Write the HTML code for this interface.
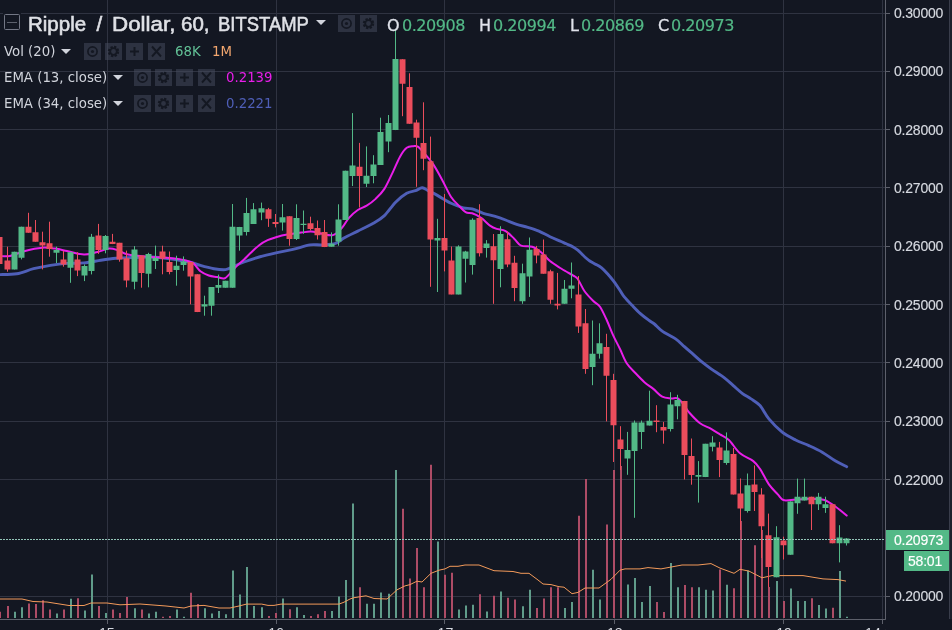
<!DOCTYPE html>
<html><head><meta charset="utf-8"><style>
html,body{margin:0;padding:0;background:#131722;}
body{width:952px;height:630px;position:relative;overflow:hidden;font-family:"Liberation Sans", Arial, sans-serif;}
.t{position:absolute;white-space:nowrap;color:#d1d4dc;line-height:1;}
.b{position:absolute;width:17px;height:17px;background:rgba(72,78,95,0.5);}
.b svg{display:block}
.ti{top:14px;font-size:20.5px;font-family:'Liberation Sans',sans-serif;color:#dfe1e6;-webkit-text-stroke:0.55px #dfe1e6;}
.d{font-family:'DejaVu Sans',sans-serif;font-size:16px;letter-spacing:-0.45px;-webkit-text-stroke:0.2px currentColor;}
.s{font-family:'DejaVu Sans',sans-serif;font-size:13.3px;}
.tri{position:absolute;width:0;height:0;border-left:5px solid transparent;border-right:5px solid transparent;border-top:5px solid #d1d4dc;}
</style></head><body>
<svg width="952" height="630" viewBox="0 0 952 630" style="position:absolute;left:0;top:0">
<rect width="952" height="630" fill="#131722"/>
<path d="M0 13.5H886 M0 71.5H886 M0 129.5H886 M0 187.5H886 M0 246.5H886 M0 304.5H886 M0 362.5H886 M0 421.5H886 M0 479.5H886 M0 596.5H886 M107.5 0V619 M276.5 0V619 M444.5 0V619 M614.5 0V619 M783.5 0V619 M882.5 0V619" stroke="#2f3341" stroke-width="1" fill="none"/>
<path d="M15 618V611.7 M22 618V607.3 M57 618V613.4 M71 618V598.7 M85 618V610.5 M92 618V574.5 M106 618V613.0 M135 618V608.3 M149 618V613.4 M156 618V611.7 M177 618V609.6 M184 618V616.8 M205 618V608.3 M212 618V613.4 M219 618V610.9 M226 618V614.3 M233 618V570.5 M240 618V594.6 M247 618V566.9 M254 618V606.0 M262 618V607.3 M283 618V598.4 M297 618V607.3 M304 618V615.0 M332 618V610.9 M339 618V596.5 M346 618V580.0 M353 618V503.4 M367 618V603.7 M374 618V603.7 M381 618V592.4 M389 618V593.7 M396 618V469.9 M438 618V541.4 M459 618V609.5 M466 618V605.5 M473 618V604.7 M487 618V611.5 M501 618V591.6 M523 618V606.3 M530 618V589.8 M565 618V608.1 M572 618V602.1 M593 618V569.7 M600 618V599.5 M628 618V584.6 M635 618V578.0 M642 618V602.1 M650 618V585.9 M671 618V562.9 M678 618V587.2 M699 618V587.2 M706 618V589.8 M713 618V590.6 M727 618V584.7 M748 618V570.5 M777 618V581.1 M791 618V588.4 M798 618V601.1 M805 618V601.1 M819 618V604.9 M826 618V608.4 M840 618V571.1 M847 618V616.7" stroke="#609c8a" stroke-width="2" fill="none"/>
<path d="M0 618V611.7 M8 618V606.0 M29 618V603.5 M36 618V603.9 M43 618V600.3 M50 618V609.6 M64 618V609.6 M78 618V598.2 M99 618V606.0 M113 618V609.6 M120 618V613.0 M127 618V596.9 M142 618V609.6 M163 618V616.8 M170 618V616.0 M191 618V592.7 M198 618V604.1 M269 618V616.0 M276 618V613.0 M290 618V609.2 M311 618V616.0 M318 618V614.3 M325 618V610.9 M360 618V587.2 M403 618V508.7 M410 618V578.6 M417 618V547.9 M424 618V587.2 M431 618V464.7 M445 618V574.8 M452 618V572.8 M480 618V594.3 M494 618V595.8 M508 618V597.7 M515 618V599.5 M537 618V608.1 M544 618V598.5 M551 618V587.2 M558 618V587.2 M579 618V515.7 M586 618V479.1 M607 618V524.4 M614 618V470.0 M621 618V466.0 M657 618V602.1 M664 618V612.1 M685 618V585.1 M692 618V587.2 M720 618V569.4 M734 618V588.2 M741 618V521.0 M755 618V545.3 M762 618V530.0 M769 618V587.0 M784 618V601.1 M812 618V598.2 M833 618V607.8" stroke="#ad4c66" stroke-width="2" fill="none"/>
<path d="M0.0 599.0 L22.0 599.0 L33.0 601.5 L47.0 602.0 L69.0 605.5 L84.0 605.5 L91.0 603.0 L107.0 603.0 L120.0 604.8 L140.0 604.0 L166.0 606.0 L184.0 608.0 L191.0 606.0 L204.0 605.4 L219.0 608.0 L230.0 608.0 L239.0 606.0 L246.5 604.1 L261.7 604.1 L268.0 605.4 L274.0 605.4 L281.0 604.1 L339.0 604.1 L344.0 602.2 L350.0 599.0 L354.0 597.7 L366.0 595.8 L374.0 598.5 L387.0 599.0 L397.0 589.8 L405.0 585.9 L410.0 584.6 L417.0 581.2 L422.0 582.0 L431.0 573.3 L439.0 570.2 L445.0 568.9 L450.0 566.3 L458.0 566.3 L465.0 565.0 L479.0 565.0 L494.0 570.7 L513.0 571.5 L521.0 573.3 L529.0 573.3 L538.0 580.0 L543.0 584.0 L551.0 584.6 L559.0 586.7 L564.0 587.2 L572.0 593.7 L578.0 592.4 L585.0 588.0 L599.0 588.0 L611.0 579.3 L620.0 570.2 L625.0 568.9 L640.0 568.9 L648.0 567.6 L661.0 568.9 L682.0 565.0 L698.0 565.0 L711.0 563.6 L720.0 568.1 L727.0 570.7 L734.0 573.3 L740.0 569.3 L749.0 571.1 L762.0 577.8 L772.0 575.6 L792.0 575.6 L803.0 575.6 L823.0 578.9 L838.0 579.6 L846.0 581.1" stroke="#f39a5a" stroke-width="1" fill="none" stroke-linejoin="round"/>
<path d="M0.0 274.6 C2.8 274.5 11.2 274.8 16.8 273.8 C22.4 272.8 28.0 270.1 33.6 268.7 C39.2 267.3 44.8 266.3 50.4 265.4 C56.0 264.5 61.6 263.8 67.2 263.4 C72.8 263.0 78.4 263.4 84.0 262.9 C89.6 262.4 95.5 261.1 100.8 260.3 C106.1 259.5 111.8 258.7 116.0 258.3 C120.2 257.9 120.3 258.0 126.0 257.8 C131.7 257.6 141.8 256.7 150.0 257.0 C158.2 257.3 168.0 258.5 175.2 259.5 C182.3 260.5 188.7 261.9 192.9 262.9 C197.1 263.9 196.9 264.4 200.4 265.4 C203.9 266.4 209.7 268.0 213.9 268.7 C218.1 269.4 222.2 270.0 225.6 269.6 C228.9 269.2 230.9 267.5 234.0 266.2 C237.1 264.9 239.9 263.5 244.1 262.0 C248.3 260.5 253.9 258.5 259.2 257.0 C264.5 255.5 270.4 254.1 276.0 252.8 C281.6 251.5 287.2 250.7 292.9 249.4 C298.6 248.1 305.1 245.7 310.0 244.9 C314.9 244.2 317.7 245.2 322.0 244.9 C326.3 244.6 331.9 244.5 335.6 243.3 C339.3 242.1 340.7 239.8 344.4 237.8 C348.1 235.8 353.0 233.5 357.8 231.1 C362.6 228.7 368.9 225.9 373.3 223.3 C377.7 220.7 380.7 219.1 384.4 215.6 C388.1 212.1 391.9 205.9 395.6 202.2 C399.3 198.5 403.4 195.2 406.7 193.3 C410.0 191.4 413.0 191.6 415.6 190.7 C418.2 189.8 420.0 187.7 422.2 187.8 C424.4 187.9 426.3 189.8 428.9 191.1 C431.5 192.4 434.1 193.6 437.8 195.6 C441.5 197.6 446.9 201.3 451.1 203.3 C455.4 205.3 459.8 206.9 463.3 207.8 C466.8 208.7 468.9 208.0 472.2 208.9 C475.5 209.8 479.6 212.1 483.3 213.3 C487.0 214.5 490.7 215.1 494.4 216.2 C498.1 217.3 501.9 218.6 505.6 220.0 C509.3 221.4 513.0 223.2 516.7 224.4 C520.4 225.6 524.1 226.2 527.8 227.3 C531.5 228.4 535.2 229.5 538.9 231.1 C542.6 232.7 546.3 235.0 550.0 236.7 C553.7 238.4 558.4 240.3 561.1 241.5 C563.8 242.7 564.4 242.9 566.3 243.8 C568.2 244.7 570.8 245.6 572.7 246.7 C574.6 247.8 576.3 249.0 577.8 250.2 C579.3 251.4 580.3 252.5 581.6 253.7 C582.9 254.9 584.0 256.3 585.4 257.5 C586.8 258.7 588.2 259.9 589.8 261.0 C591.4 262.1 593.1 262.8 595.0 263.9 C596.9 265.0 599.2 266.0 601.3 267.7 C603.4 269.4 605.6 271.7 607.7 274.0 C609.8 276.3 611.9 278.9 614.0 281.7 C616.1 284.5 618.6 288.4 620.4 291.0 C622.1 293.6 622.5 294.7 624.5 297.1 C626.5 299.5 629.5 302.6 632.1 305.3 C634.8 308.1 637.6 311.1 640.4 313.6 C643.2 316.1 646.4 318.5 648.7 320.2 C651.0 321.9 652.1 322.2 654.4 324.0 C656.6 325.8 658.7 328.6 662.2 331.1 C665.7 333.6 671.9 336.3 675.6 338.9 C679.3 341.5 681.5 344.1 684.4 346.7 C687.3 349.3 690.3 351.8 693.3 354.4 C696.3 357.0 699.2 359.8 702.2 362.2 C705.2 364.6 707.4 366.3 711.1 368.9 C714.8 371.5 720.7 375.0 724.4 377.8 C728.1 380.6 730.3 383.0 733.3 385.6 C736.3 388.2 739.2 391.1 742.2 393.3 C745.2 395.5 748.1 396.8 751.1 398.9 C754.1 400.9 757.0 402.3 760.0 405.6 C763.0 408.9 765.2 414.5 768.9 418.9 C772.6 423.3 777.8 428.7 782.2 432.2 C786.7 435.7 791.2 437.8 795.6 440.0 C800.0 442.2 804.5 443.6 808.9 445.6 C813.3 447.6 817.8 449.6 822.2 452.2 C826.7 454.8 831.5 458.7 835.6 461.1 C839.7 463.5 844.9 465.8 846.7 466.7" stroke="#4f5fb8" stroke-width="2.9" fill="none" stroke-linejoin="round" stroke-linecap="round"/>
<path d="M0.0 256.0 C1.7 256.0 5.8 256.8 10.0 256.0 C14.2 255.2 19.7 252.4 25.0 251.0 C30.3 249.6 37.0 248.1 42.0 247.7 C47.0 247.3 50.8 248.0 55.0 248.6 C59.2 249.2 62.2 250.0 67.0 251.0 C71.8 252.0 78.9 254.3 84.0 254.5 C89.1 254.7 93.3 253.0 97.5 252.0 C101.7 251.0 105.6 248.9 109.0 248.6 C112.4 248.3 114.8 249.3 118.0 250.3 C121.2 251.3 122.5 253.4 128.0 254.5 C133.5 255.6 144.5 256.4 151.0 257.0 C157.5 257.6 161.4 257.3 166.8 257.8 C172.2 258.3 179.2 259.1 183.6 260.0 C187.9 260.9 190.1 261.0 192.9 262.9 C195.7 264.8 197.8 269.2 200.4 271.3 C203.1 273.4 206.0 274.5 208.8 275.5 C211.6 276.5 214.7 276.6 217.2 277.1 C219.7 277.6 222.0 278.9 224.0 278.5 C226.0 278.1 226.8 276.8 229.0 274.6 C231.2 272.4 234.9 267.9 237.4 265.4 C239.9 262.9 241.9 261.6 244.1 259.5 C246.3 257.4 248.3 255.2 250.8 252.8 C253.3 250.4 256.4 247.3 259.2 245.2 C262.0 243.1 264.5 241.6 267.6 240.2 C270.7 238.8 274.9 237.7 277.7 236.8 C280.5 236.0 280.6 235.8 284.5 235.1 C288.4 234.4 296.9 233.2 301.3 232.6 C305.7 232.0 307.6 231.4 311.0 231.6 C314.4 231.8 318.3 233.2 322.0 233.8 C325.7 234.4 329.7 236.1 333.0 235.1 C336.3 234.1 339.3 230.7 342.0 227.8 C344.7 224.9 346.4 220.8 349.0 217.8 C351.6 214.8 354.9 212.0 357.8 210.0 C360.8 208.0 363.7 207.4 366.7 205.6 C369.7 203.8 372.7 201.7 375.6 198.9 C378.6 196.1 381.4 193.5 384.4 188.9 C387.3 184.3 390.7 176.5 393.3 171.1 C395.9 165.7 397.8 160.6 400.0 156.7 C402.2 152.8 404.5 149.6 406.7 147.8 C408.9 146.1 411.4 146.4 413.3 146.2 C415.2 146.0 416.0 145.5 417.8 146.7 C419.6 147.9 421.8 150.4 424.4 153.3 C427.0 156.2 430.3 160.0 433.3 164.4 C436.3 168.8 439.2 174.6 442.2 180.0 C445.2 185.4 448.3 192.7 451.1 197.0 C453.9 201.3 456.5 203.1 458.9 205.6 C461.3 208.1 463.4 210.9 465.6 212.2 C467.8 213.5 469.6 212.4 472.2 213.3 C474.8 214.2 478.1 215.8 481.1 217.8 C484.1 219.9 487.4 223.8 490.0 225.6 C492.6 227.4 494.1 228.0 496.7 228.9 C499.3 229.8 502.7 229.4 505.6 231.1 C508.6 232.8 511.8 236.5 514.4 238.9 C517.0 241.3 518.1 244.3 521.1 245.6 C524.1 246.9 528.9 245.6 532.2 246.7 C535.5 247.8 538.1 249.8 541.1 252.2 C544.1 254.6 546.7 258.4 550.0 261.1 C553.3 263.8 558.3 266.7 561.1 268.5 C563.9 270.3 565.0 270.8 567.0 272.0 C569.0 273.2 571.5 274.4 573.3 275.6 C575.1 276.8 575.9 276.4 577.8 279.0 C579.6 281.6 581.8 287.3 584.4 291.0 C587.0 294.7 590.7 298.4 593.3 301.0 C595.9 303.6 597.8 303.5 600.0 306.7 C602.2 309.9 604.5 315.2 606.7 320.0 C608.9 324.8 611.1 330.8 613.3 335.6 C615.5 340.4 617.8 344.4 620.0 349.0 C622.2 353.6 624.1 359.2 626.7 363.3 C629.3 367.4 632.7 370.2 635.6 373.3 C638.5 376.4 641.5 379.6 644.4 382.2 C647.3 384.8 650.3 386.5 653.3 388.9 C656.3 391.3 659.2 395.1 662.2 396.7 C665.2 398.3 668.5 398.1 671.1 398.4 C673.7 398.7 675.6 397.2 677.8 398.4 C680.0 399.6 682.5 403.3 684.4 405.6 C686.2 407.9 686.3 409.2 688.9 412.2 C691.5 415.1 696.3 420.5 700.0 423.3 C703.7 426.1 707.8 427.0 711.1 428.9 C714.4 430.8 717.0 432.5 720.0 434.4 C723.0 436.2 725.6 436.9 728.9 440.0 C732.2 443.1 735.9 449.8 740.0 453.3 C744.1 456.8 750.0 458.5 753.3 461.1 C756.6 463.7 757.4 465.0 760.0 468.9 C762.6 472.8 765.9 480.1 768.9 484.4 C771.9 488.6 775.4 491.8 777.8 494.4 C780.2 497.0 781.1 499.1 783.3 500.0 C785.5 500.9 787.6 500.2 791.1 500.0 C794.6 499.8 800.7 499.1 804.4 498.9 C808.1 498.7 810.0 498.7 813.3 498.9 C816.6 499.1 820.7 498.7 824.4 500.0 C828.1 501.3 831.9 504.1 835.6 506.7 C839.3 509.3 844.9 514.1 846.7 515.6" stroke="#e91ee9" stroke-width="2" fill="none" stroke-linejoin="round" stroke-linecap="round"/>
<path d="M14.5 251.7V269.4 M21.5 226.7V259.4 M56.5 246.7V263.0 M70.5 251.7V282.8 M84.5 264.4V281.1 M91.5 233.9V274.4 M105.5 235.0V253.3 M134.5 246.1V289.3 M148.5 252.8V287.3 M155.5 245.6V269.0 M176.5 255.7V285.7 M183.5 256.4V270.7 M204.5 295.7V315.7 M211.5 287.1V315.7 M218.5 274.6V293.0 M225.5 280.8V287.7 M232.5 204.0V287.7 M239.5 226.9V250.7 M246.5 197.9V235.5 M253.5 203.1V224.0 M261.5 202.6V220.2 M282.5 204.0V230.6 M296.5 204.3V240.0 M303.5 210.5V233.8 M331.5 232.4V246.7 M338.5 204.3V245.7 M345.5 170.7V220.0 M352.5 113.1V186.0 M366.5 146.4V187.0 M373.5 155.2V183.3 M380.5 117.7V165.0 M388.5 115.0V152.2 M395.5 29.0V130.1 M437.5 218.8V292.0 M458.5 245.3V294.4 M465.5 250.8V282.5 M472.5 218.3V274.6 M486.5 240.1V257.6 M500.5 226.2V287.3 M522.5 263.7V303.8 M529.5 237.5V296.9 M564.5 280.0V303.8 M571.5 262.5V298.3 M592.5 320.5V385.2 M599.5 323.3V358.6 M627.5 431.9V474.8 M634.5 420.5V517.8 M641.5 420.5V449.0 M649.5 390.7V425.5 M670.5 392.2V431.5 M677.5 394.8V419.3 M698.5 461.1V502.6 M705.5 443.8V477.1 M712.5 436.2V451.4 M726.5 432.4V464.8 M747.5 473.5V512.6 M776.5 526.2V577.3 M790.5 501.4V554.8 M797.5 478.6V513.8 M804.5 478.6V500.5 M818.5 492.9V510.0 M825.5 496.7V512.9 M839.5 525.2V562.4 M846.5 538.0V545.5" stroke="#53b987" stroke-width="1" fill="none"/>
<path d="M11.5 251.7h6v17.7h-6z M18.5 226.7h6v31.1h-6z M53.5 250.0h6v2.8h-6z M67.5 252.2h6v15.6h-6z M81.5 266.1h6v9.5h-6z M88.5 236.7h6v34.4h-6z M102.5 236.1h6v13.9h-6z M131.5 249.4h6v32.3h-6z M145.5 253.9h6v19.9h-6z M152.5 258.0h6v3.0h-6z M173.5 265.7h6v4.3h-6z M180.5 261.4h6v3.6h-6z M201.5 304.3h6v2.1h-6z M208.5 287.1h6v18.6h-6z M215.5 285.1h6v2.6h-6z M222.5 280.8h6v6.9h-6z M229.5 226.8h6v60.9h-6z M236.5 226.9h6v8.6h-6z M243.5 213.1h6v19.0h-6z M250.5 209.3h6v14.7h-6z M258.5 208.3h6v4.3h-6z M279.5 217.3h6v5.2h-6z M293.5 218.1h6v20.9h-6z M300.5 223.8h6v1.2h-6z M328.5 243.8h6v2.9h-6z M335.5 219.5h6v22.1h-6z M342.5 170.7h6v49.3h-6z M349.5 165.6h6v10.4h-6z M363.5 175.7h6v8.0h-6z M370.5 164.5h6v11.5h-6z M377.5 132.0h6v33.0h-6z M385.5 123.0h6v18.5h-6z M392.5 59.0h6v71.1h-6z M434.5 238.1h6v2.4h-6z M455.5 246.5h6v47.9h-6z M462.5 251.6h6v7.1h-6z M469.5 219.8h6v45.2h-6z M483.5 243.6h6v4.4h-6z M497.5 234.0h6v34.9h-6z M519.5 273.3h6v27.9h-6z M526.5 249.7h6v26.8h-6z M561.5 288.7h6v15.1h-6z M568.5 285.6h6v3.1h-6z M589.5 353.8h6v13.3h-6z M596.5 343.3h6v10.5h-6z M624.5 450.0h6v8.6h-6z M631.5 422.4h6v28.6h-6z M638.5 422.4h6v9.5h-6z M646.5 420.7h6v4.8h-6z M667.5 404.4h6v24.5h-6z M674.5 400.0h6v6.2h-6z M695.5 475.0h6v1.8h-6z M702.5 443.8h6v33.3h-6z M709.5 442.5h6v4.2h-6z M723.5 450.5h6v12.4h-6z M744.5 485.2h6v25.8h-6z M773.5 537.2h6v40.1h-6z M787.5 501.4h6v53.4h-6z M794.5 496.7h6v6.6h-6z M801.5 496.7h6v3.8h-6z M815.5 496.7h6v7.6h-6z M822.5 504.3h6v3.8h-6z M836.5 537.6h6v5.7h-6z M843.5 538.6h6v4.7h-6z" fill="#53b987"/>
<path d="M-0.5 235.0V264.0 M7.5 246.7V271.7 M28.5 212.8V232.8 M35.5 220.0V241.7 M42.5 231.7V269.4 M49.5 221.7V256.7 M63.5 251.0V266.7 M77.5 252.2V276.1 M98.5 223.9V253.9 M112.5 233.9V244.1 M119.5 242.8V261.7 M126.5 250.6V287.3 M141.5 255.6V287.7 M162.5 245.7V274.3 M169.5 251.5V274.3 M190.5 262.1V304.3 M197.5 274.3V312.1 M268.5 207.9V226.9 M275.5 214.0V227.4 M289.5 216.2V245.7 M310.5 216.7V230.5 M317.5 220.5V239.5 M324.5 220.0V247.1 M359.5 142.9V207.5 M402.5 59.2V116.2 M409.5 73.3V123.8 M416.5 119.7V186.8 M423.5 102.3V170.2 M430.5 136.6V286.8 M444.5 194.0V271.4 M451.5 246.5V294.4 M479.5 204.2V256.5 M493.5 234.0V303.8 M507.5 231.4V267.2 M514.5 255.8V301.2 M536.5 245.9V263.3 M543.5 239.5V273.7 M550.5 269.7V303.8 M557.5 272.9V309.4 M578.5 276.0V332.9 M585.5 309.0V373.8 M606.5 333.8V421.4 M613.5 373.8V462.0 M620.5 426.2V470.0 M656.5 405.2V432.2 M663.5 421.9V443.7 M684.5 400.9V479.5 M691.5 438.5V484.7 M719.5 441.9V477.1 M733.5 448.0V494.5 M740.5 478.5V530.0 M754.5 465.4V511.0 M761.5 488.2V558.0 M768.5 513.6V587.2 M783.5 536.7V559.5 M811.5 496.7V530.0 M832.5 504.3V543.3" stroke="#eb4d5c" stroke-width="1" fill="none"/>
<path d="M-3.5 237.0h6v27.0h-6z M4.5 260.6h6v8.8h-6z M25.5 226.7h6v6.1h-6z M32.5 232.2h6v9.5h-6z M39.5 242.2h6v3.4h-6z M46.5 243.3h6v5.6h-6z M60.5 259.4h6v5.0h-6z M74.5 259.4h6v11.2h-6z M95.5 235.6h6v14.4h-6z M109.5 241.7h6v2.4h-6z M116.5 242.8h6v16.6h-6z M123.5 258.3h6v22.3h-6z M138.5 255.6h6v17.4h-6z M159.5 251.5h6v7.1h-6z M166.5 262.0h6v10.1h-6z M187.5 262.1h6v14.3h-6z M194.5 274.3h6v37.8h-6z M265.5 209.3h6v9.5h-6z M272.5 222.1h6v1.9h-6z M286.5 216.2h6v22.8h-6z M307.5 223.3h6v5.7h-6z M314.5 228.1h6v7.1h-6z M321.5 231.9h6v15.2h-6z M356.5 166.7h6v9.3h-6z M399.5 59.2h6v24.5h-6z M406.5 87.0h6v36.8h-6z M413.5 122.6h6v15.1h-6z M420.5 143.0h6v15.8h-6z M427.5 161.2h6v78.4h-6z M441.5 237.9h6v12.7h-6z M448.5 260.4h6v34.0h-6z M476.5 217.9h6v35.3h-6z M490.5 246.2h6v14.0h-6z M504.5 239.3h6v25.3h-6z M511.5 262.8h6v25.3h-6z M533.5 249.0h6v6.4h-6z M540.5 254.6h6v19.1h-6z M547.5 271.3h6v28.5h-6z M554.5 303.8h6v1.6h-6z M575.5 294.5h6v32.0h-6z M582.5 323.3h6v45.7h-6z M603.5 347.1h6v28.6h-6z M610.5 380.0h6v45.2h-6z M617.5 439.5h6v9.5h-6z M653.5 420.5h6v1.5h-6z M660.5 427.1h6v3.5h-6z M681.5 400.9h6v54.1h-6z M688.5 455.9h6v19.2h-6z M716.5 447.6h6v12.4h-6z M730.5 454.0h6v40.5h-6z M737.5 493.5h6v15.0h-6z M751.5 484.6h6v7.4h-6z M758.5 494.6h6v31.7h-6z M765.5 535.2h6v31.7h-6z M780.5 540.5h6v4.7h-6z M808.5 496.7h6v7.6h-6z M829.5 504.3h6v39.0h-6z" fill="#eb4d5c"/>
<path d="M0 539.5H886" stroke="#93c4b8" stroke-width="1.2" stroke-dasharray="2 1" fill="none"/>
<rect x="886" y="0" width="66" height="630" fill="#131722"/>
<rect x="0" y="619" width="886" height="11" fill="#131722"/>
<path d="M885.5 0V619.5H0" stroke="#5d606b" stroke-width="1" fill="none"/>
<rect x="950" y="0" width="2" height="630" fill="#1c202c"/><path d="M949.5 0V630" stroke="#393d4b" stroke-width="1" fill="none"/>
<path d="M886 13.5h4 M886 71.5h4 M886 129.5h4 M886 187.5h4 M886 246.5h4 M886 304.5h4 M886 362.5h4 M886 421.5h4 M886 479.5h4 M886 537.5h4 M886 596.5h4 M107.5 620v4 M276.5 620v4 M444.5 620v4 M614.5 620v4 M783.5 620v4 M882.5 620v4" stroke="#5d606b" stroke-width="1" fill="none"/>
<text x="894" y="18.1" font-family="Liberation Sans, Arial, sans-serif" font-size="14" letter-spacing="-0.2" fill="#d6d9e0" stroke="#d6d9e0" stroke-width="0.15">0.30000</text>
<text x="894" y="76.4" font-family="Liberation Sans, Arial, sans-serif" font-size="14" letter-spacing="-0.2" fill="#d6d9e0" stroke="#d6d9e0" stroke-width="0.15">0.29000</text>
<text x="894" y="134.7" font-family="Liberation Sans, Arial, sans-serif" font-size="14" letter-spacing="-0.2" fill="#d6d9e0" stroke="#d6d9e0" stroke-width="0.15">0.28000</text>
<text x="894" y="193.0" font-family="Liberation Sans, Arial, sans-serif" font-size="14" letter-spacing="-0.2" fill="#d6d9e0" stroke="#d6d9e0" stroke-width="0.15">0.27000</text>
<text x="894" y="251.3" font-family="Liberation Sans, Arial, sans-serif" font-size="14" letter-spacing="-0.2" fill="#d6d9e0" stroke="#d6d9e0" stroke-width="0.15">0.26000</text>
<text x="894" y="309.6" font-family="Liberation Sans, Arial, sans-serif" font-size="14" letter-spacing="-0.2" fill="#d6d9e0" stroke="#d6d9e0" stroke-width="0.15">0.25000</text>
<text x="894" y="367.9" font-family="Liberation Sans, Arial, sans-serif" font-size="14" letter-spacing="-0.2" fill="#d6d9e0" stroke="#d6d9e0" stroke-width="0.15">0.24000</text>
<text x="894" y="426.2" font-family="Liberation Sans, Arial, sans-serif" font-size="14" letter-spacing="-0.2" fill="#d6d9e0" stroke="#d6d9e0" stroke-width="0.15">0.23000</text>
<text x="894" y="484.5" font-family="Liberation Sans, Arial, sans-serif" font-size="14" letter-spacing="-0.2" fill="#d6d9e0" stroke="#d6d9e0" stroke-width="0.15">0.22000</text>
<text x="894" y="601.1" font-family="Liberation Sans, Arial, sans-serif" font-size="14" letter-spacing="-0.2" fill="#d6d9e0" stroke="#d6d9e0" stroke-width="0.15">0.20000</text>
<rect x="886" y="530" width="63" height="20" fill="#53b987"/>
<text x="894" y="545.1" font-family="Liberation Sans, Arial, sans-serif" font-size="14" letter-spacing="-0.2" fill="#ffffff" stroke="#ffffff" stroke-width="0.15">0.20973</text>
<rect x="904" y="551" width="45" height="20" fill="#53b987"/>
<text x="908" y="566.1" font-family="Liberation Sans, Arial, sans-serif" font-size="14" letter-spacing="-0.2" fill="#ffffff" stroke="#ffffff" stroke-width="0.15">58:01</text>
<text x="106.8" y="638.1" text-anchor="middle" font-family="Liberation Sans, Arial, sans-serif" font-size="14.2" fill="#d6d9e0">15</text>
<text x="276.1" y="638.1" text-anchor="middle" font-family="Liberation Sans, Arial, sans-serif" font-size="14.2" fill="#d6d9e0">16</text>
<text x="445.4" y="638.1" text-anchor="middle" font-family="Liberation Sans, Arial, sans-serif" font-size="14.2" fill="#d6d9e0">17</text>
<text x="614.8" y="638.1" text-anchor="middle" font-family="Liberation Sans, Arial, sans-serif" font-size="14.2" fill="#d6d9e0">18</text>
<text x="784.1" y="638.1" text-anchor="middle" font-family="Liberation Sans, Arial, sans-serif" font-size="14.2" fill="#d6d9e0">19</text>
<text x="882.8" y="638.1" text-anchor="middle" font-family="Liberation Sans, Arial, sans-serif" font-size="14.2" fill="#d6d9e0">14:00</text>
<rect x="886" y="619" width="66" height="11" fill="#131722"/>
<path d="M885.5 0V619.5" stroke="#5d606b" stroke-width="1" fill="none"/>
</svg>
<div style="position:absolute;left:3px;top:12px;width:18px;height:19px;background:#131722"></div>
<div style="position:absolute;left:4px;top:14px;width:14px;height:14px;border:1px solid #737785;border-radius:1.5px"></div>
<div style="position:absolute;left:7px;top:21.5px;width:10px;height:1.3px;background:#5d616d"></div>
<div class="t ti" style="left:28px;">Ripple</div><div class="t ti" style="left:96.5px;">/</div><div class="t ti" style="left:112px;transform:scaleX(1.09);transform-origin:0 0">Dollar,</div><div class="t ti" style="left:181px;">60,</div><div class="t ti" style="left:217.5px;transform:scaleX(0.9);transform-origin:0 0">BITSTAMP</div>
<div class="tri" style="left:316px;top:20px"></div>
<div class="b" style="left:338px;top:15px"><svg width="17" height="17" viewBox="0 0 17 17"><circle cx="8.5" cy="8.5" r="4.6" fill="none" stroke="#141822" stroke-width="1.7"/><circle cx="8.5" cy="8.5" r="1.6" fill="#141822"/></svg></div><div class="b" style="left:360px;top:15px"><svg width="17" height="17" viewBox="0 0 17 17"><circle cx="8.5" cy="8.5" r="4.4" fill="none" stroke="#141822" stroke-width="2.6" stroke-dasharray="2.2 1.25"/><circle cx="8.5" cy="8.5" r="3.3" fill="none" stroke="#141822" stroke-width="1.8"/></svg></div>
<div class="t d" style="left:387px;top:17.5px;color:#e0e3eb;-webkit-text-stroke:0.3px #e0e3eb">O</div><div class="t d" style="left:402px;top:17.5px;color:#53b987">0.20908</div>
<div class="t d" style="left:479px;top:17.5px;color:#e0e3eb;-webkit-text-stroke:0.3px #e0e3eb">H</div><div class="t d" style="left:493px;top:17.5px;color:#53b987">0.20994</div>
<div class="t d" style="left:570px;top:17.5px;color:#e0e3eb;-webkit-text-stroke:0.3px #e0e3eb">L</div><div class="t d" style="left:581px;top:17.5px;color:#53b987">0.20869</div>
<div class="t d" style="left:658px;top:17.5px;color:#e0e3eb;-webkit-text-stroke:0.3px #e0e3eb">C</div><div class="t d" style="left:671px;top:17.5px;color:#53b987">0.20973</div>
<div class="t s" style="left:4px;top:45px;">Vol (20)</div>
<div class="tri" style="left:61px;top:49px"></div>
<div class="b" style="left:84px;top:43px"><svg width="17" height="17" viewBox="0 0 17 17"><circle cx="8.5" cy="8.5" r="4.6" fill="none" stroke="#141822" stroke-width="1.7"/><circle cx="8.5" cy="8.5" r="1.6" fill="#141822"/></svg></div><div class="b" style="left:105px;top:43px"><svg width="17" height="17" viewBox="0 0 17 17"><circle cx="8.5" cy="8.5" r="4.4" fill="none" stroke="#141822" stroke-width="2.6" stroke-dasharray="2.2 1.25"/><circle cx="8.5" cy="8.5" r="3.3" fill="none" stroke="#141822" stroke-width="1.8"/></svg></div><div class="b" style="left:126px;top:43px"><svg width="17" height="17" viewBox="0 0 17 17"><path d="M8.5 4v9M4 8.5h9" stroke="#141822" stroke-width="2"/></svg></div><div class="b" style="left:148px;top:43px"><svg width="17" height="17" viewBox="0 0 17 17"><path d="M4 3.5l9 10M13 3.5l-9 10" stroke="#141822" stroke-width="1.9"/></svg></div>
<div class="t s" style="left:175px;top:45px;color:#62c196">68K</div>
<div class="t s" style="left:212px;top:45px;color:#f2a66e">1M</div>
<div class="t s" style="left:4px;top:71px;">EMA (13, close)</div>
<div class="tri" style="left:113px;top:75px"></div>
<div class="b" style="left:134px;top:69px"><svg width="17" height="17" viewBox="0 0 17 17"><circle cx="8.5" cy="8.5" r="4.6" fill="none" stroke="#141822" stroke-width="1.7"/><circle cx="8.5" cy="8.5" r="1.6" fill="#141822"/></svg></div><div class="b" style="left:155px;top:69px"><svg width="17" height="17" viewBox="0 0 17 17"><circle cx="8.5" cy="8.5" r="4.4" fill="none" stroke="#141822" stroke-width="2.6" stroke-dasharray="2.2 1.25"/><circle cx="8.5" cy="8.5" r="3.3" fill="none" stroke="#141822" stroke-width="1.8"/></svg></div><div class="b" style="left:176px;top:69px"><svg width="17" height="17" viewBox="0 0 17 17"><path d="M8.5 4v9M4 8.5h9" stroke="#141822" stroke-width="2"/></svg></div><div class="b" style="left:198px;top:69px"><svg width="17" height="17" viewBox="0 0 17 17"><path d="M4 3.5l9 10M13 3.5l-9 10" stroke="#141822" stroke-width="1.9"/></svg></div>
<div class="t s" style="left:226px;top:71px;color:#e91ee9">0.2139</div>
<div class="t s" style="left:4px;top:97px;">EMA (34, close)</div>
<div class="tri" style="left:113px;top:101px"></div>
<div class="b" style="left:134px;top:95px"><svg width="17" height="17" viewBox="0 0 17 17"><circle cx="8.5" cy="8.5" r="4.6" fill="none" stroke="#141822" stroke-width="1.7"/><circle cx="8.5" cy="8.5" r="1.6" fill="#141822"/></svg></div><div class="b" style="left:155px;top:95px"><svg width="17" height="17" viewBox="0 0 17 17"><circle cx="8.5" cy="8.5" r="4.4" fill="none" stroke="#141822" stroke-width="2.6" stroke-dasharray="2.2 1.25"/><circle cx="8.5" cy="8.5" r="3.3" fill="none" stroke="#141822" stroke-width="1.8"/></svg></div><div class="b" style="left:176px;top:95px"><svg width="17" height="17" viewBox="0 0 17 17"><path d="M8.5 4v9M4 8.5h9" stroke="#141822" stroke-width="2"/></svg></div><div class="b" style="left:198px;top:95px"><svg width="17" height="17" viewBox="0 0 17 17"><path d="M4 3.5l9 10M13 3.5l-9 10" stroke="#141822" stroke-width="1.9"/></svg></div>
<div class="t s" style="left:226px;top:97px;color:#4f5fb8">0.2221</div>
</body></html>
